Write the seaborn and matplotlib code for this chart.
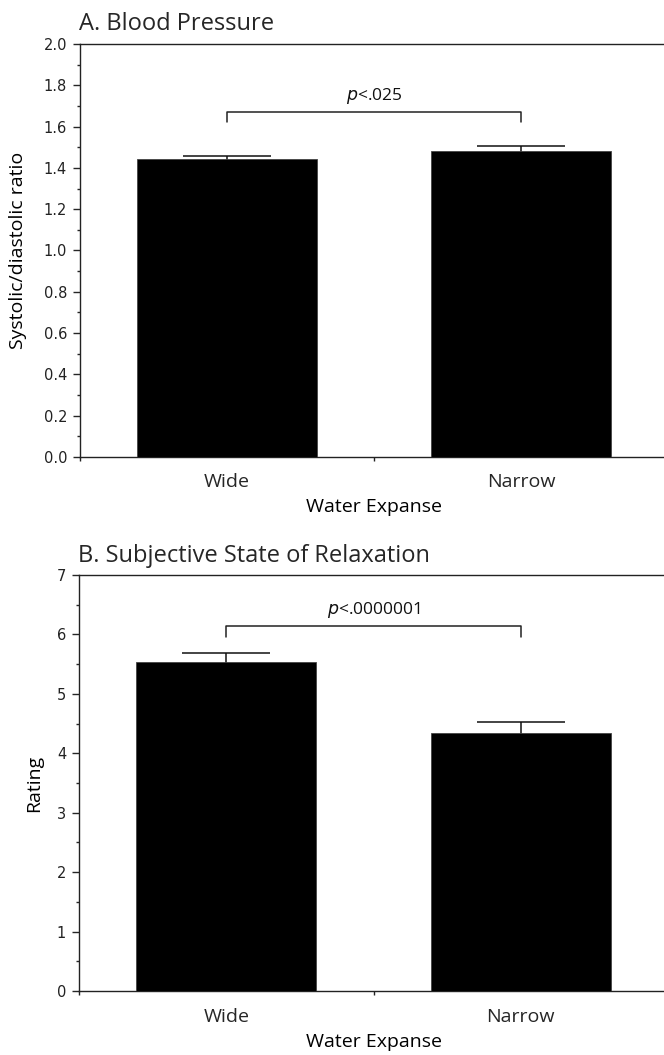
import numpy as np
import pandas as pd
import seaborn as sns
import matplotlib
matplotlib.use('Agg')
import matplotlib.pyplot as plt
from matplotlib.ticker import MultipleLocator, FormatStrFormatter

# data
groups = ['Wide', 'Narrow']

bp_ratio = [1.445, 1.483]
bp_se = [0.015, 0.022]
bp_bracket = [1.62, 1.672]      # foot, top
bp_p = '$p$<.025'

relax_rating = [5.53, 4.34]
relax_se = [0.15, 0.18]
relax_bracket = [5.96, 6.15]
relax_p = '$p$<.0000001'

sns.set_style('ticks')
plt.rcParams['font.family'] = ['Open Sans', 'DejaVu Sans']
plt.rcParams['axes.edgecolor'] = '#222222'
plt.rcParams['axes.linewidth'] = 1.0

fig = plt.figure(figsize=(6.64, 10.55), dpi=100)
axA = fig.add_axes([80/664, 1-457/1055, 588/664, 413/1055])
axB = fig.add_axes([79/664, 1-991/1055, 589/664, 416/1055])


def panel(ax, vals, errs, ymax, major, minor, fmt, ylabel, ylab_x, bracket, ptxt, xpad):
    df = pd.DataFrame({'group': groups, 'value': vals})
    sns.barplot(data=df, x='group', y='value', color='black', saturation=1,
                width=0.61, edgecolor='#444444', linewidth=0.6, ax=ax)
    for p in ax.patches:
        p.set_zorder(3)
    # error bars sit behind the bars so only the upper half shows
    ax.errorbar(np.arange(len(groups)), vals, yerr=errs, fmt='none',
                ecolor='#111111', elinewidth=1.1, capsize=31.5, capthick=1.1, zorder=2)

    # significance bracket
    ax.plot([0, 0, 1, 1], [bracket[0], bracket[1], bracket[1], bracket[0]],
            color='#222222', lw=1.1)
    ax.annotate(ptxt, xy=(0.5, bracket[1]), xytext=(0, 11), textcoords='offset points',
                ha='center', va='center', fontsize=12.5, color='#111111')

    ax.set_xlim(-0.5, 1.5)
    ax.set_ylim(0, ymax)
    ax.set_xticks([-0.5, 0.5, 1.5])
    ax.set_xticklabels([])
    ax.set_xticks([0, 1], minor=True)
    ax.set_xticklabels(groups, minor=True, fontsize=14)
    ax.tick_params(axis='x', which='major', length=3, width=1, direction='out', color='#222222')
    ax.tick_params(axis='x', which='minor', length=0, pad=xpad)

    ax.yaxis.set_major_locator(MultipleLocator(major))
    ax.yaxis.set_minor_locator(MultipleLocator(minor))
    ax.yaxis.set_major_formatter(FormatStrFormatter(fmt))
    ax.tick_params(axis='y', which='major', length=5.3, width=1, pad=4,
                   labelsize=10.5, labelcolor='#222222', labelfontfamily='DejaVu Sans')
    ax.tick_params(axis='y', which='minor', length=2.2, width=1)

    ax.set_xlabel('Water Expanse', fontsize=14, labelpad=5, color='black')
    ax.set_ylabel(ylabel, fontsize=14, color='black')
    ax.yaxis.set_label_coords(ylab_x, 0.5)

    for s in ['top', 'right', 'left', 'bottom']:
        ax.spines[s].set_visible(True)


panel(axA, bp_ratio, bp_se, 2.0, 0.2, 0.1, '%.1f', 'Systolic/diastolic ratio',
      -0.09, bp_bracket, bp_p, 11.5)
panel(axB, relax_rating, relax_se, 7, 1, 0.5, '%d', 'Rating',
      -0.061, relax_bracket, relax_p, 12)

fig.text(79/664, 1-29.5/1055, 'A. Blood Pressure', fontsize=17, va='baseline', ha='left')
fig.text(78/664, 1-561.7/1055, 'B. Subjective State of Relaxation', fontsize=17,
         va='baseline', ha='left')

fig.savefig('out.png', dpi=100)
